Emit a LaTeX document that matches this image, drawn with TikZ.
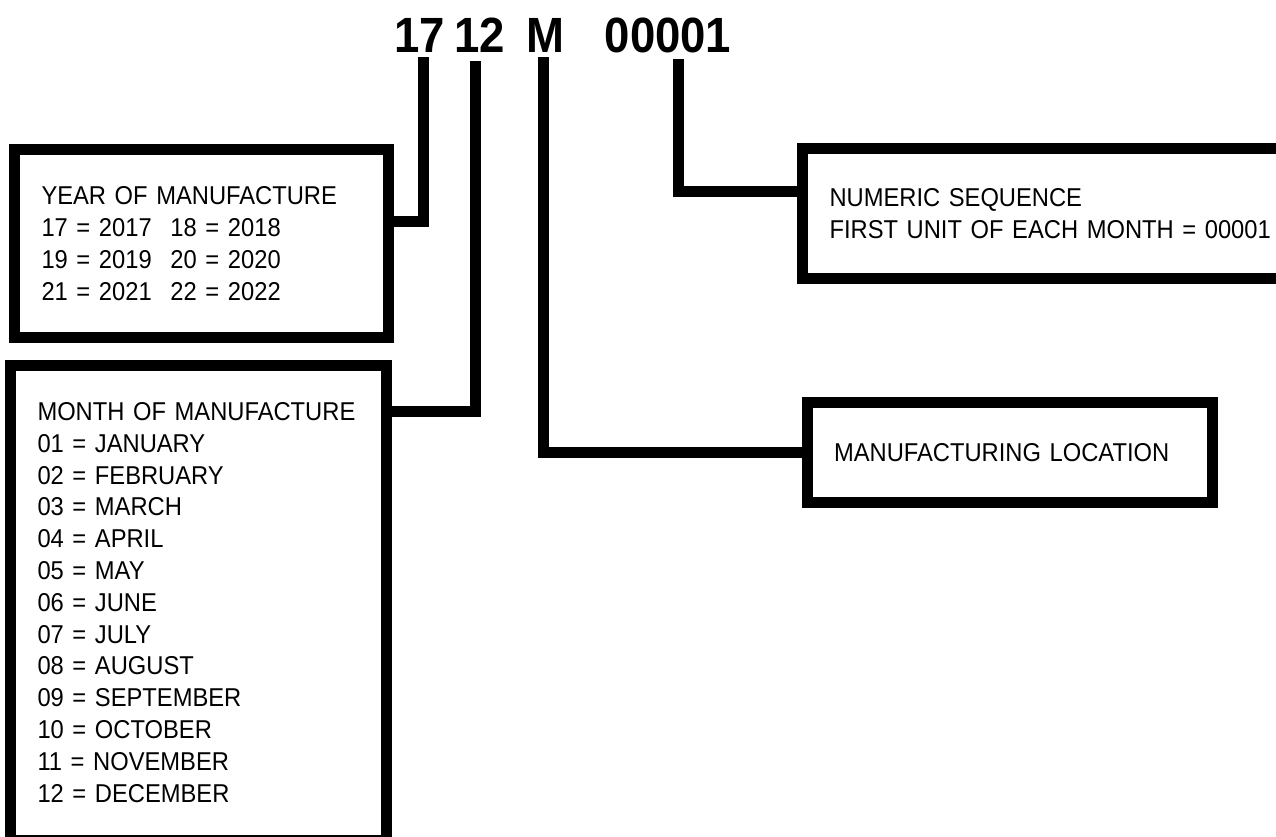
\documentclass[tikz,border=0pt]{standalone}
\usepackage{fontspec}
\setmainfont{Liberation Sans}[FakeStretch=0.92]
\newfontfamily\headfont{Liberation Sans}[FakeStretch=0.92]
\newcommand\txtfont{\fontsize{25.8}{31.8}\selectfont}
\newcommand\hdfont{\headfont\bfseries\fontsize{49.5}{52}\selectfont}
\begin{document}
\begin{tikzpicture}[x=1pt,y=-1pt,
  box/.style={draw=black, line width=11pt, rectangle, inner xsep=27pt, inner ysep=0pt, align=left, font=\txtfont},
  conn/.style={draw=black, line width=11pt, line cap=butt, line join=miter},
  head/.style={font=\hdfont, inner sep=0pt, anchor=base}]
\useasboundingbox (0,0) rectangle (1276,836);
\clip (0,0) rectangle (1276,836);

% header
\node[head] (h17) at (419.5,52) {17};
\node[head] (h12) at (479.5,52) {12};
\node[head] (hM) at (545,52) {M};
\node[head] (hseq) at (668,52) {00001};

% boxes
\node[box, minimum width=374pt, minimum height=188pt, text width=320pt] (year) at (201.5,243.5)
  {YEAR OF MANUFACTURE\\
   \makebox[129pt][l]{17 = 2017}18 = 2018\\
   \makebox[129pt][l]{19 = 2019}20 = 2020\\
   \makebox[129pt][l]{21 = 2021}22 = 2022};
\node[box, minimum width=376pt, minimum height=475pt, text width=322pt] (month) at (198.5,602.5)
  {MONTH OF MANUFACTURE\\
   01 = JANUARY\\
   02 = FEBRUARY\\
   03 = MARCH\\
   04 = APRIL\\
   05 = MAY\\
   06 = JUNE\\
   07 = JULY\\
   08 = AUGUST\\
   09 = SEPTEMBER\\
   10 = OCTOBER\\
   11 = NOVEMBER\\
   12 = DECEMBER};
\node[box, minimum height=130.5pt, text width=470pt] (seq) at (1064.5,213.25)
  {NUMERIC SEQUENCE\\
   \mbox{FIRST UNIT OF EACH MONTH = 00001}};
\node[box, minimum width=405pt, minimum height=100pt, text width=351pt] (loc) at (1009.5,452.5)
  {\mbox{MANUFACTURING LOCATION}};

% connectors
\coordinate (t17) at (423,57);
\coordinate (k17) at (423,221);
\coordinate (t12) at (475,61);
\coordinate (k12) at (475,411.5);
\coordinate (tM) at (543,57);
\coordinate (tseq) at (678,59);
\coordinate (kseq) at (678,191.5);

\draw[conn] (t17) -- (k17) -- (k17 -| year.east);
\draw[conn] (t12) -- (k12) -- (k12 -| month.east);
\draw[conn] (tM) |- (loc.west);
\draw[conn] (tseq) -- (kseq) -- (kseq -| seq.west);
\end{tikzpicture}
\end{document}
